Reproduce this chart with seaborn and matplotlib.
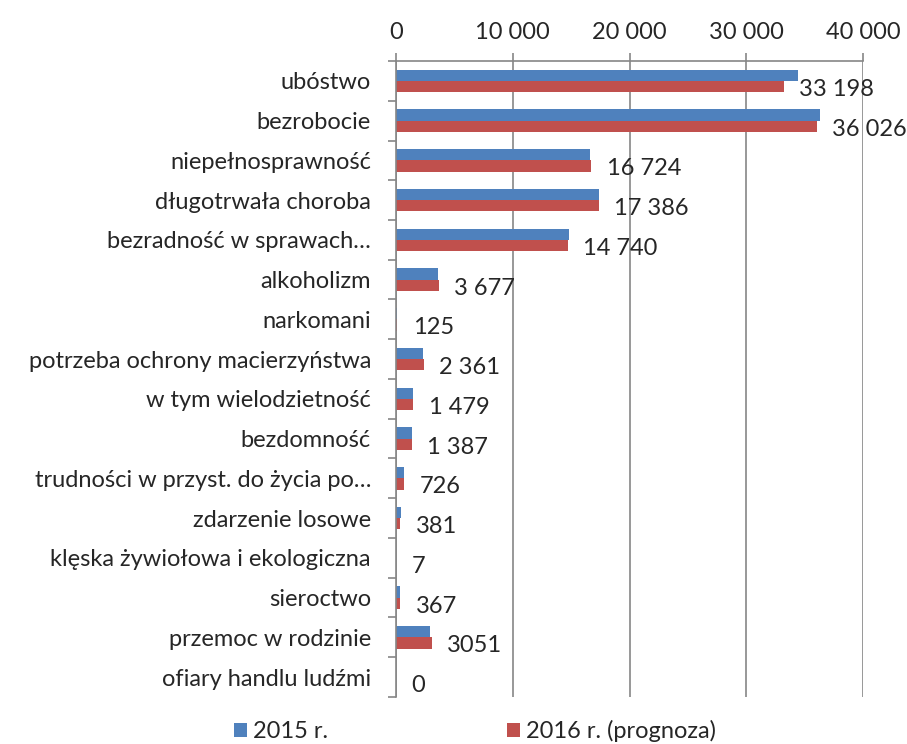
import matplotlib
matplotlib.use("Agg")
import matplotlib.pyplot as plt
import seaborn as sns
import pandas as pd
from matplotlib.ticker import FuncFormatter

# dane
categories = [
    "ubóstwo", "bezrobocie", "niepełnosprawność", "długotrwała choroba",
    "bezradność w sprawach…", "alkoholizm", "narkomani",
    "potrzeba ochrony macierzyństwa", "w tym wielodzietność", "bezdomność",
    "trudności w przyst. do życia po…", "zdarzenie losowe",
    "klęska żywiołowa i ekologiczna", "sieroctwo", "przemoc w rodzinie",
    "ofiary handlu ludźmi",
]
values_2015 = [34390, 36330, 16640, 17400, 14810, 3560, 110, 2340, 1450, 1380,
               690, 450, 5, 370, 2870, 0]
values_2016 = [33198, 36026, 16724, 17386, 14740, 3677, 125, 2361, 1479, 1387,
               726, 381, 7, 367, 3051, 0]
labels_2016 = ["33 198", "36 026", "16 724", "17 386", "14 740", "3 677", "125",
               "2 361", "1 479", "1 387", "726", "381", "7", "367", "3051", "0"]
series = ["2015 r.", "2016 r. (prognoza)"]
colors = ["#4F81BD", "#C0504D"]
xticks = [0, 10000, 20000, 30000, 40000]

GRAY = "#868686"

sns.set_style("white")
plt.rcParams["font.family"] = ["Lato", "DejaVu Sans"]
plt.rcParams["font.size"] = 17

df = pd.DataFrame({
    "kategoria": categories * 2,
    "wartosc": values_2015 + values_2016,
    "seria": [series[0]] * len(categories) + [series[1]] * len(categories),
})

fig = plt.figure(figsize=(9.07, 7.44), dpi=100)
ax = fig.add_axes([0.4366, 0.0632, 0.5152, 0.8548])

sns.barplot(data=df, y="kategoria", x="wartosc", hue="seria", orient="h",
            palette=colors, saturation=1, width=0.57, linewidth=0, ax=ax)

# etykiety danych przy słupkach 2016
for bar, lbl in zip(ax.containers[1], labels_2016):
    y = bar.get_y() + bar.get_height() / 2
    ax.annotate(lbl, xy=(bar.get_width(), y), xytext=(11, -2),
                textcoords="offset points", va="center", ha="left")

ax.set_xlim(0, 40000)
ax.set_xticks(xticks)
ax.xaxis.set_major_formatter(FuncFormatter(lambda v, p: f"{int(v):,}".replace(",", " ")))
ax.xaxis.tick_top()
ax.tick_params(axis="x", which="major", length=6, width=1.2, color=GRAY, pad=7)
ax.grid(axis="x", color=GRAY, linewidth=1.2)
ax.set_axisbelow(True)

ax.set_yticks(range(len(categories)))
ax.set_yticklabels(categories)
ax.set_yticks([i - 0.5 for i in range(len(categories) + 1)], minor=True)
ax.tick_params(axis="y", which="major", length=0, pad=18)
ax.tick_params(axis="y", which="minor", length=6, width=1.2, color=GRAY, left=True)
ax.set_ylim(len(categories) - 0.5, -0.5)

ax.set_xlabel("")
ax.set_ylabel("")
for side in ["bottom", "right"]:
    ax.spines[side].set_visible(False)
for side in ["top", "left"]:
    ax.spines[side].set_color(GRAY)
    ax.spines[side].set_linewidth(1.2)

handles, lbls = ax.get_legend_handles_labels()
ax.get_legend().remove()
fig.legend(handles, lbls, loc="center", bbox_to_anchor=(475 / 907, 1 - 731 / 744),
           ncol=2, frameon=False, columnspacing=7.6, handlelength=0.55,
           handleheight=0.55, handletextpad=0.25)

fig.savefig("out.png", dpi=100)
